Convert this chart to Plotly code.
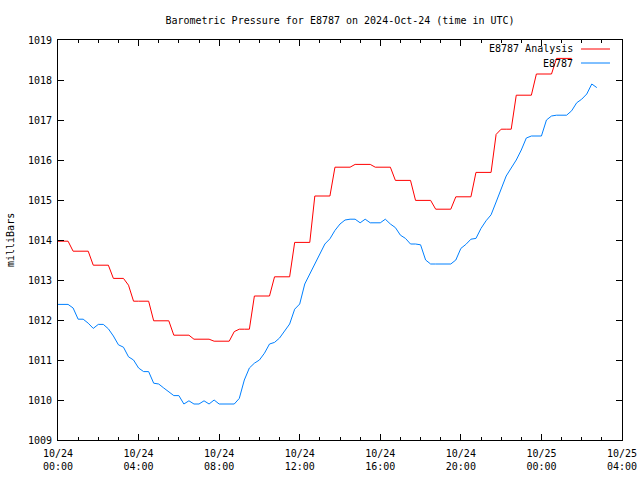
import pandas as pd
import plotly.graph_objects as go

# ---- data ----
start_time = "2024-10-24 00:00"
sample_freq = "15min"

analysis_values = [
    1013.97, 1013.97, 1013.97,
    1013.72, 1013.72, 1013.72, 1013.72,
    1013.37, 1013.37, 1013.37, 1013.37,
    1013.04, 1013.04, 1013.04,
    1012.87,
    1012.47, 1012.47, 1012.47, 1012.47,
    1011.98, 1011.98, 1011.98, 1011.98,
    1011.62, 1011.62, 1011.62, 1011.62,
    1011.52, 1011.52, 1011.52, 1011.52,
    1011.47, 1011.47, 1011.47, 1011.47,
    1011.71,
    1011.77, 1011.77, 1011.77,
    1012.60, 1012.60, 1012.60, 1012.60,
    1013.08, 1013.08, 1013.08, 1013.08,
    1013.94, 1013.94, 1013.94, 1013.94,
    1015.10, 1015.10, 1015.10, 1015.10,
    1015.82, 1015.82, 1015.82, 1015.82,
    1015.89, 1015.89, 1015.89, 1015.89,
    1015.82, 1015.82, 1015.82, 1015.82,
    1015.49, 1015.49, 1015.49, 1015.49,
    1014.99, 1014.99, 1014.99, 1014.99,
    1014.77, 1014.77, 1014.77, 1014.77,
    1015.08, 1015.08, 1015.08, 1015.08,
    1015.69, 1015.69, 1015.69, 1015.69,
    1016.64,
    1016.77, 1016.77, 1016.77,
    1017.62, 1017.62, 1017.62, 1017.62,
    1018.15, 1018.15, 1018.15, 1018.15,
    1018.54, 1018.54, 1018.54, 1018.54,
]

station_values = [
    1012.39, 1012.39, 1012.39, 1012.30, 1012.02, 1012.02, 1011.92, 1011.79,
    1011.89, 1011.89, 1011.78, 1011.60, 1011.38, 1011.32, 1011.08, 1011.00,
    1010.80, 1010.71, 1010.71, 1010.42, 1010.40, 1010.30, 1010.20, 1010.11,
    1010.11, 1009.90, 1009.98, 1009.90, 1009.90, 1009.98, 1009.90, 1010.00,
    1009.90, 1009.90, 1009.90, 1009.90, 1010.04, 1010.50, 1010.80, 1010.92,
    1011.00, 1011.17, 1011.40, 1011.44, 1011.55, 1011.72, 1011.90, 1012.27,
    1012.40, 1012.90, 1013.15, 1013.40, 1013.62, 1013.90, 1014.03, 1014.24,
    1014.40, 1014.50, 1014.52, 1014.52, 1014.43, 1014.52, 1014.43, 1014.43,
    1014.43, 1014.52, 1014.40, 1014.31, 1014.12, 1014.04, 1013.90, 1013.90,
    1013.88, 1013.50, 1013.40, 1013.40, 1013.40, 1013.40, 1013.40, 1013.50,
    1013.79, 1013.89, 1014.02, 1014.04, 1014.29, 1014.48, 1014.63, 1014.95,
    1015.30, 1015.60, 1015.80, 1016.00, 1016.25, 1016.55, 1016.60, 1016.60,
    1016.60, 1017.00, 1017.10, 1017.12, 1017.12, 1017.12, 1017.23, 1017.43,
    1017.52, 1017.65, 1017.90, 1017.81,
]

x_tick_values = ["2024-10-24 00:00", "2024-10-24 04:00", "2024-10-24 08:00",
                 "2024-10-24 12:00", "2024-10-24 16:00", "2024-10-24 20:00",
                 "2024-10-25 00:00", "2024-10-25 04:00"]
x_tick_labels = ["10/24<br>00:00", "10/24<br>04:00", "10/24<br>08:00",
                 "10/24<br>12:00", "10/24<br>16:00", "10/24<br>20:00",
                 "10/25<br>00:00", "10/25<br>04:00"]
y_tick_values = [1009, 1010, 1011, 1012, 1013, 1014, 1015, 1016, 1017, 1018, 1019]

series_names = ["E8787 Analysis", "E8787"]
series_colors = ["#ff0000", "#0080ff"]

title_text = "Barometric Pressure for E8787 on 2024-Oct-24 (time in UTC)"
y_title = "milliBars"

# ---- figure ----
analysis_times = pd.date_range(start_time, periods=len(analysis_values), freq=sample_freq)
station_times = pd.date_range(start_time, periods=len(station_values), freq=sample_freq)

FONT = "DejaVu Sans Mono"

fig = go.Figure()
fig.add_trace(go.Scatter(x=analysis_times, y=analysis_values, mode="lines",
                         line=dict(color=series_colors[0], width=1),
                         name=series_names[0], showlegend=False))
fig.add_trace(go.Scatter(x=station_times, y=station_values, mode="lines",
                         line=dict(color=series_colors[1], width=1),
                         name=series_names[1], showlegend=False))

# gnuplot-style legend: text on the left, line sample on the right
legend_y = [0.9775, 0.9425]
for name, color, ly in zip(series_names, series_colors, legend_y):
    fig.add_annotation(xref="paper", yref="paper", x=0.9167, y=ly, text=name,
                       showarrow=False, xanchor="right", yanchor="middle",
                       font=dict(family=FONT, size=10, color="black"))
    fig.add_shape(type="line", xref="paper", yref="paper", x0=0.9273, x1=0.9787,
                  y0=ly, y1=ly, line=dict(color=color, width=1))

fig.add_annotation(xref="paper", yref="paper", x=-0.0851, y=0.5, text=y_title,
                   textangle=-90, showarrow=False, xanchor="center", yanchor="middle",
                   font=dict(family=FONT, size=10, color="black"))

fig.update_layout(
    width=640, height=480,
    margin=dict(l=58, r=18, t=40, b=40, autoexpand=False),
    paper_bgcolor="white", plot_bgcolor="white",
    font=dict(family=FONT, size=10, color="black"),
    title=dict(text=title_text, x=340 / 640, xanchor="center", y=1 - 20 / 480,
               yanchor="middle", font=dict(family=FONT, size=10, color="black")),
    showlegend=False,
)
fig.update_xaxes(
    type="date", automargin=False,
    range=[x_tick_values[0], x_tick_values[-1]],
    tickmode="array", tickvals=x_tick_values, ticktext=x_tick_labels,
    ticks="inside", ticklen=6, tickwidth=1, tickcolor="black",
    ticklabelstandoff=4,
    minor=dict(ticks="inside", ticklen=3, dtick=3600000, tickcolor="black", showgrid=False),
    showline=True, linecolor="black", linewidth=1, mirror="allticks",
    showgrid=False, zeroline=False, tickangle=0,
)
fig.update_yaxes(
    range=[1009, 1019], automargin=False,
    tickmode="array", tickvals=y_tick_values,
    ticks="inside", ticklen=6, tickwidth=1, tickcolor="black",
    ticklabelstandoff=3,
    showline=True, linecolor="black", linewidth=1, mirror="allticks",
    showgrid=False, zeroline=False,
)

fig.write_html("out.html")
